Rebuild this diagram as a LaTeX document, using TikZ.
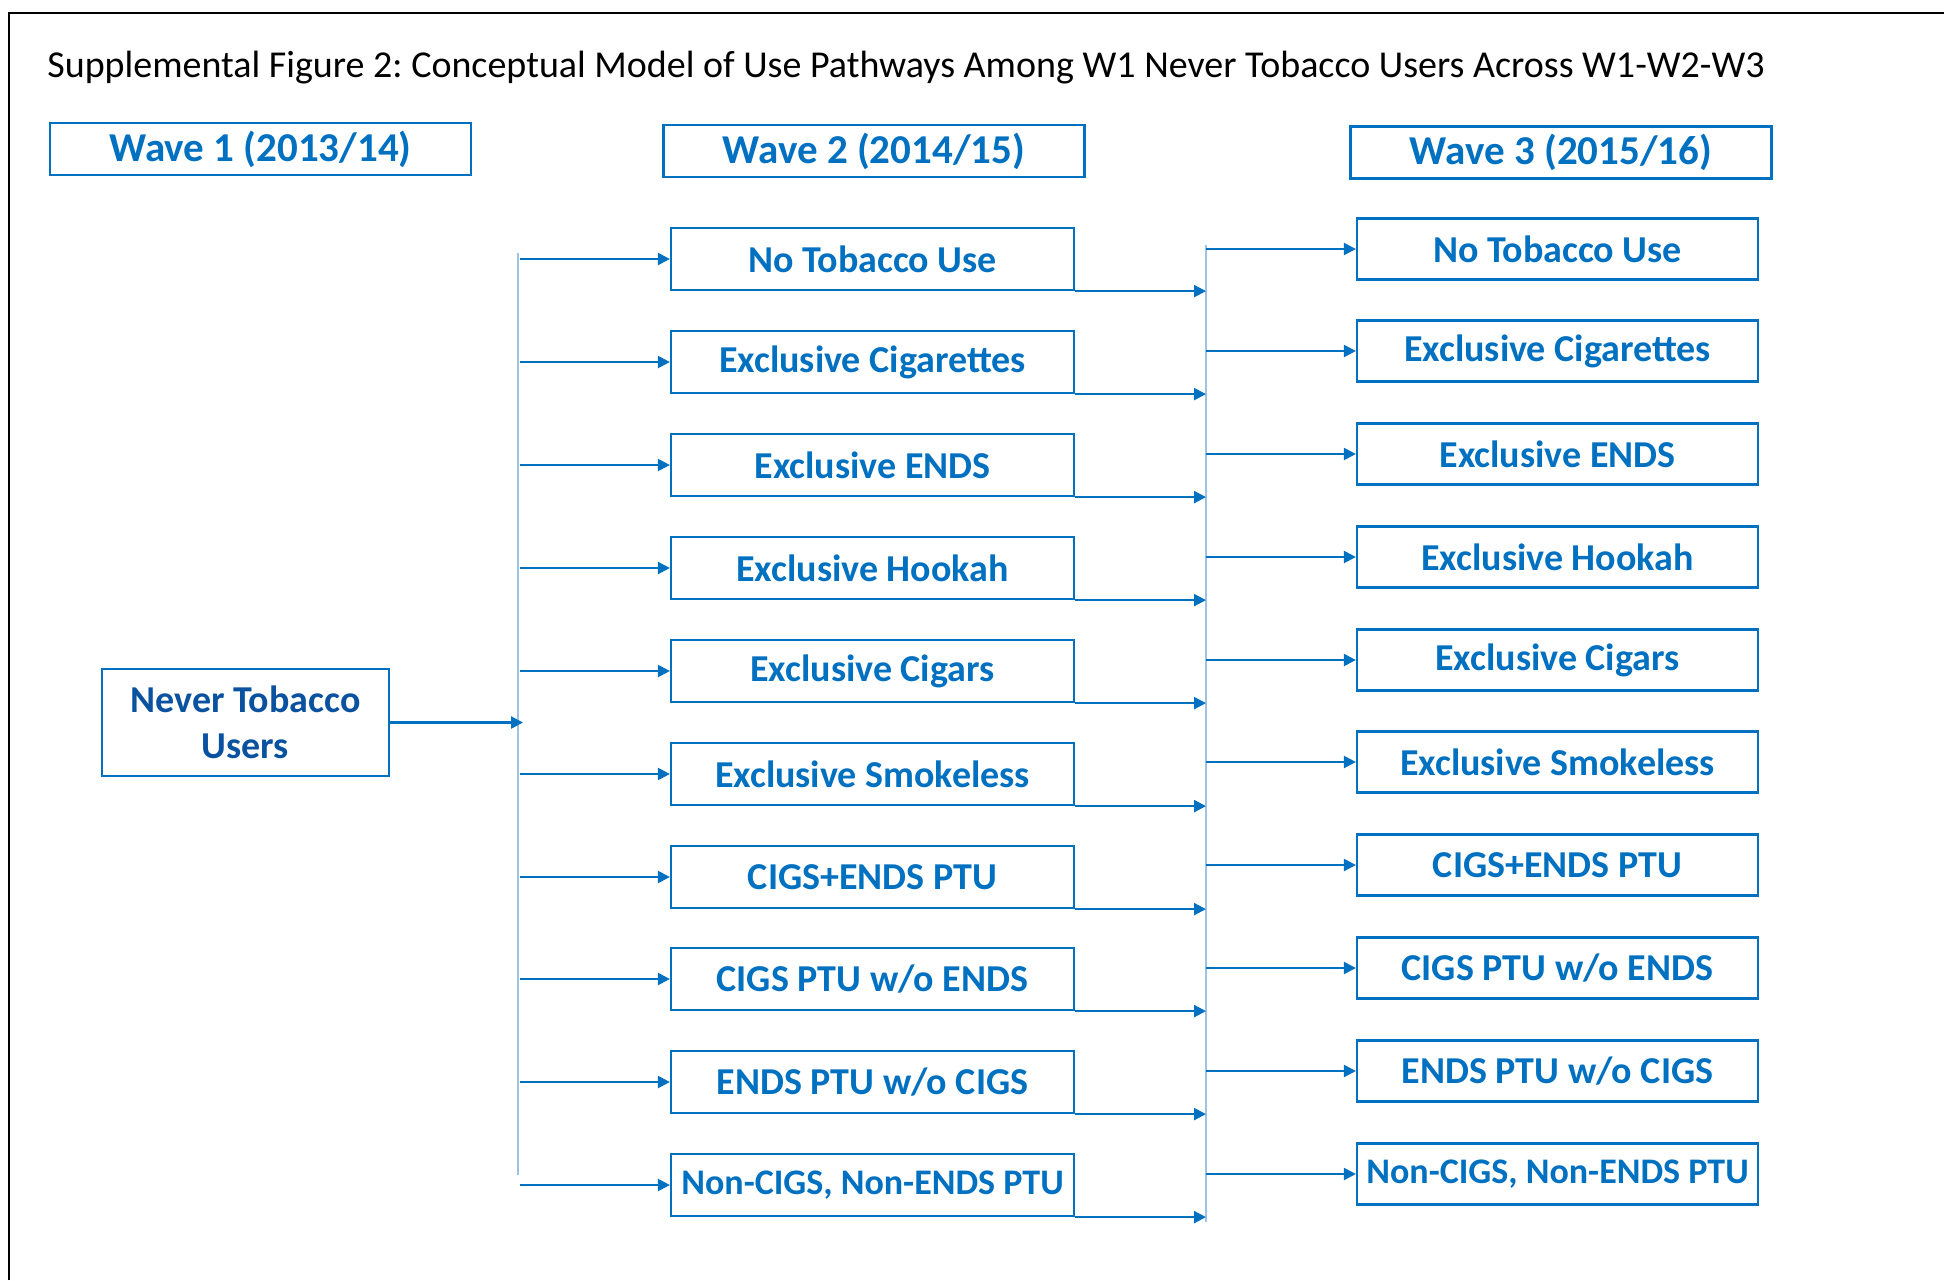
\documentclass[tikz,border=0pt]{standalone}
\usepackage{fontspec}
\setmainfont{Carlito}
\usetikzlibrary{arrows.meta}
\definecolor{waveblue}{HTML}{0070C0}
\definecolor{userblue}{HTML}{0A52A0}
\definecolor{busblue}{HTML}{9DC3E6}
\tikzset{
  stage/.style={draw=waveblue, line width=1.1pt, text=waveblue, font=\fontsize{19}{23}\selectfont\bfseries,
    minimum width=201.5pt, minimum height=31pt, inner sep=0pt},
  wavehead/.style={stage, minimum width=210.5pt, minimum height=26pt, font=\fontsize{20.5}{24}\selectfont\bfseries},
  flow/.style={draw=waveblue, line width=1.1pt, -{Triangle[length=6pt,width=6pt]}},
  bus/.style={draw=busblue, line width=0.7pt}
}
\frenchspacing
\begin{document}
\begin{tikzpicture}[x=0.5pt,y=-0.5pt]
  \useasboundingbox (0,0) rectangle (1944,1280);
  \draw[line width=1pt] (9,1280) -- (9,13) -- (1944,13);
  \node[anchor=base west, inner sep=0pt, font=\fontsize{19}{22}\selectfont] (title) at (47,77)
    {Supplemental Figure 2: Conceptual Model of Use Pathways Among W1 Never Tobacco Users Across W1-W2-W3};

  % waves
  \node[wavehead] (wone) at (260.5,149) {Wave 1 (2013/14)};
  \node[wavehead] (wtwo) at (874,151) {Wave 2 (2014/15)};
  \node[wavehead] (wthree) at (1561,152.5) {Wave 3 (2015/16)};

  \node[stage, text=userblue, minimum width=143.5pt, minimum height=53.5pt, align=center] (never) at (245.5,722.5) {Never Tobacco\\Users};

  % wave 2 states
  \node[stage] (a1) at (872.5,259) {No Tobacco Use};
  \node[stage] (a2) at (872.5,362) {Exclusive Cigarettes};
  \node[stage] (a3) at (872.5,465) {Exclusive ENDS};
  \node[stage] (a4) at (872.5,568) {Exclusive Hookah};
  \node[stage] (a5) at (872.5,671) {Exclusive Cigars};
  \node[stage] (a6) at (872.5,774) {Exclusive Smokeless};
  \node[stage] (a7) at (872.5,877) {CIGS+ENDS PTU};
  \node[stage] (a8) at (872.5,979) {CIGS PTU w/o ENDS};
  \node[stage] (a9) at (872.5,1082) {ENDS PTU w/o CIGS};
  \node[stage, font=\fontsize{18}{22}\selectfont\bfseries] (a10) at (872.5,1185) {Non-CIGS, Non-ENDS PTU};

  % wave 3 states
  \node[stage, minimum width=200.5pt, minimum height=30.5pt] (b1) at (1557.5,249) {No Tobacco Use};
  \node[stage, minimum width=200.5pt, minimum height=30.5pt] (b2) at (1557.5,351) {Exclusive Cigarettes};
  \node[stage, minimum width=200.5pt, minimum height=30.5pt] (b3) at (1557.5,454) {Exclusive ENDS};
  \node[stage, minimum width=200.5pt, minimum height=30.5pt] (b4) at (1557.5,557) {Exclusive Hookah};
  \node[stage, minimum width=200.5pt, minimum height=30.5pt] (b5) at (1557.5,660) {Exclusive Cigars};
  \node[stage, minimum width=200.5pt, minimum height=30.5pt] (b6) at (1557.5,762) {Exclusive Smokeless};
  \node[stage, minimum width=200.5pt, minimum height=30.5pt] (b7) at (1557.5,865) {CIGS+ENDS PTU};
  \node[stage, minimum width=200.5pt, minimum height=30.5pt] (b8) at (1557.5,968) {CIGS PTU w/o ENDS};
  \node[stage, minimum width=200.5pt, minimum height=30.5pt] (b9) at (1557.5,1071) {ENDS PTU w/o CIGS};
  \node[stage, minimum width=200.5pt, minimum height=30.5pt, font=\fontsize{18}{22}\selectfont\bfseries] (b10) at (1557.5,1174) {Non-CIGS, Non-ENDS PTU};

  % bus lines
  \coordinate (btop) at (518,253); \coordinate (bbot) at (518,1175);
  \coordinate (ctop) at (1206,245); \coordinate (cbot) at (1206,1222);
  \draw[bus] (btop) -- (bbot);
  \draw[bus] (ctop) -- (cbot);

  \draw[flow] (never.east) -- ([xshift=2.5pt]btop |- never.east);

  % wave 1 -> wave 2
  \draw[flow] ([xshift=1pt]btop |- a1.west) -- (a1.west);
  \draw[flow] ([xshift=1pt]btop |- a2.west) -- (a2.west);
  \draw[flow] ([xshift=1pt]btop |- a3.west) -- (a3.west);
  \draw[flow] ([xshift=1pt]btop |- a4.west) -- (a4.west);
  \draw[flow] ([xshift=1pt]btop |- a5.west) -- (a5.west);
  \draw[flow] ([xshift=1pt]btop |- a6.west) -- (a6.west);
  \draw[flow] ([xshift=1pt]btop |- a7.west) -- (a7.west);
  \draw[flow] ([xshift=1pt]btop |- a8.west) -- (a8.west);
  \draw[flow] ([xshift=1pt]btop |- a9.west) -- (a9.west);
  \draw[flow] ([xshift=1pt]btop |- a10.west) -- (a10.west);

  % wave 2 -> bus
  \draw[flow] (a1.south east) -- (ctop |- a1.south east);
  \draw[flow] (a2.south east) -- (ctop |- a2.south east);
  \draw[flow] (a3.south east) -- (ctop |- a3.south east);
  \draw[flow] (a4.south east) -- (ctop |- a4.south east);
  \draw[flow] (a5.south east) -- (ctop |- a5.south east);
  \draw[flow] (a6.south east) -- (ctop |- a6.south east);
  \draw[flow] (a7.south east) -- (ctop |- a7.south east);
  \draw[flow] (a8.south east) -- (ctop |- a8.south east);
  \draw[flow] (a9.south east) -- (ctop |- a9.south east);
  \draw[flow] (a10.south east) -- (ctop |- a10.south east);

  % bus -> wave 3
  \draw[flow] (ctop |- b1.west) -- (b1.west);
  \draw[flow] (ctop |- b2.west) -- (b2.west);
  \draw[flow] (ctop |- b3.west) -- (b3.west);
  \draw[flow] (ctop |- b4.west) -- (b4.west);
  \draw[flow] (ctop |- b5.west) -- (b5.west);
  \draw[flow] (ctop |- b6.west) -- (b6.west);
  \draw[flow] (ctop |- b7.west) -- (b7.west);
  \draw[flow] (ctop |- b8.west) -- (b8.west);
  \draw[flow] (ctop |- b9.west) -- (b9.west);
  \draw[flow] (ctop |- b10.west) -- (b10.west);
\end{tikzpicture}
\end{document}
